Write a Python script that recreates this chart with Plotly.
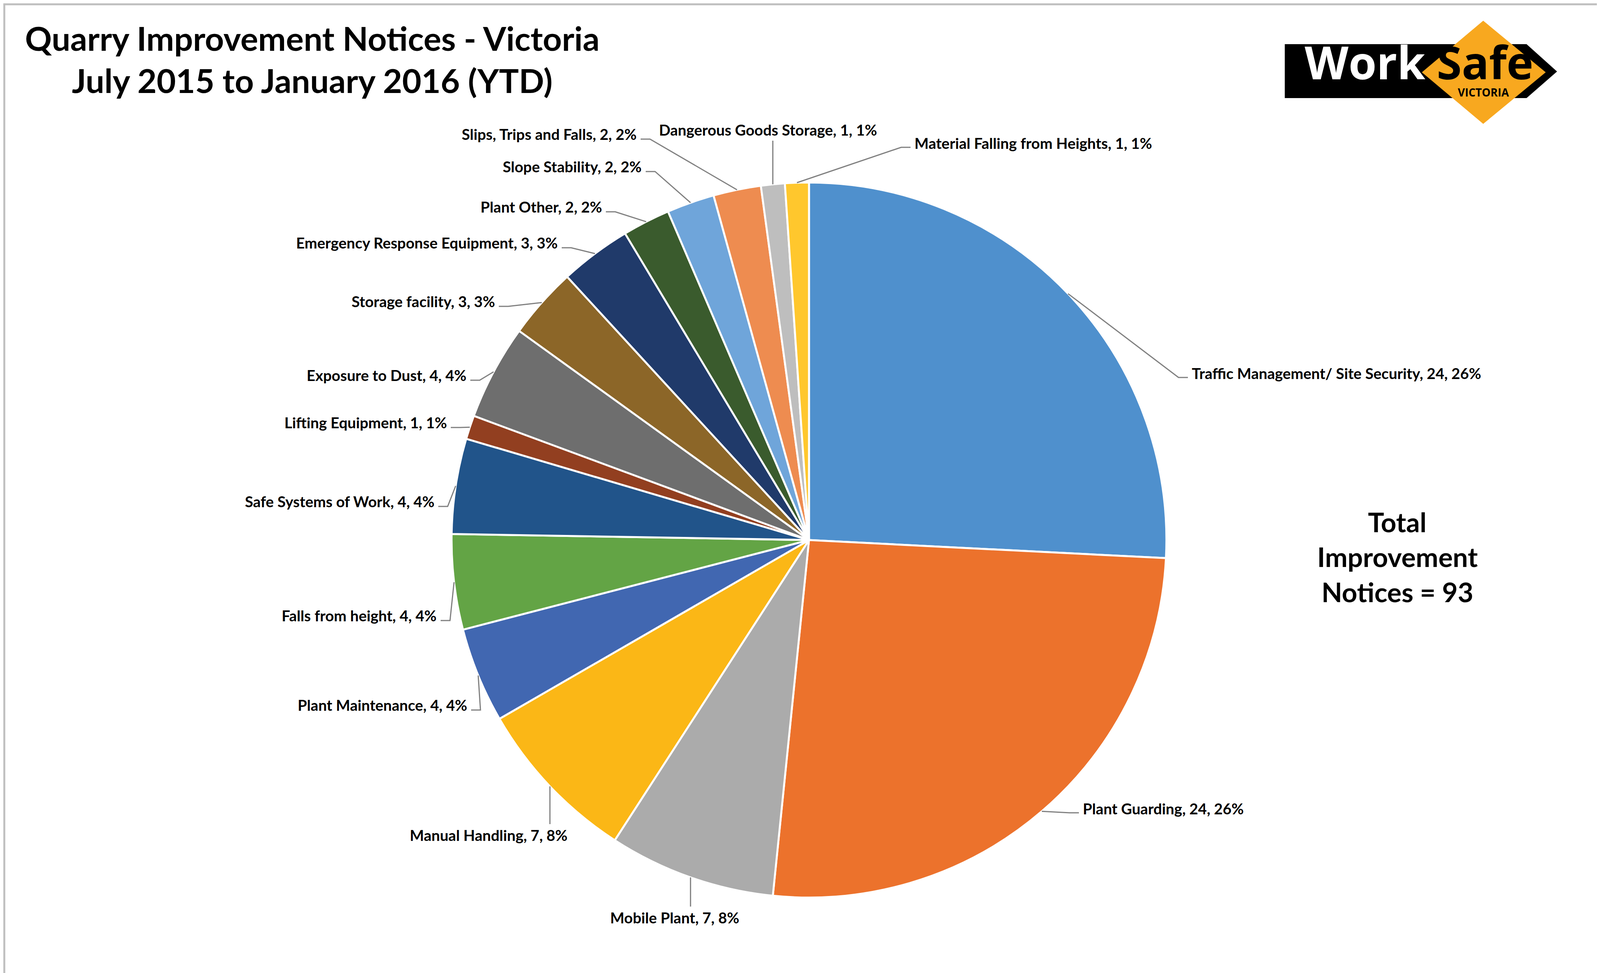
import math
import plotly.graph_objects as go

# data, clockwise from 12 o'clock
categories = [
    "Traffic Management/ Site Security", "Plant Guarding", "Mobile Plant",
    "Manual Handling", "Plant Maintenance", "Falls from height",
    "Safe Systems of Work", "Lifting Equipment", "Exposure to Dust",
    "Storage facility", "Emergency Response Equipment", "Plant Other",
    "Slope Stability", "Slips, Trips and Falls", "Dangerous Goods Storage",
    "Material Falling from Heights",
]
counts = [24, 24, 7, 7, 4, 4, 4, 1, 4, 3, 3, 2, 2, 2, 1, 1]
colors = [
    "#4F90CD", "#EC722C", "#ABABAB", "#FBB716", "#4167B1", "#63A445",
    "#21548A", "#923F20", "#6E6E6E", "#8C6628", "#203A6A", "#3A5B2D",
    "#6FA5DA", "#EE8C50", "#BEBEBE", "#FFC72D",
]

W, H = 4121, 2490
FONT = "Lato, 'Open Sans', sans-serif"


def px(x):
    return x / W


def py(y):
    return 1 - y / H


# pie geometry (pixels)
cx, cy, r = 2063, 1374, 915

# label placement in pixels: (x, y, side)
label_pos = {
    "Traffic Management/ Site Security": (3041, 947, "R"),
    "Plant Guarding": (2762, 2061, "R"),
    "Mobile Plant": (1719, 2340, "B"),
    "Manual Handling": (1243, 2129, "B"),
    "Plant Maintenance": (1190, 1796, "L"),
    "Falls from height": (1112, 1567, "L"),
    "Safe Systems of Work": (1106, 1275, "L"),
    "Lifting Equipment": (1138, 1073, "L"),
    "Exposure to Dust": (1188, 952, "L"),
    "Storage facility": (1261, 763, "L"),
    "Emergency Response Equipment": (1422, 613, "L"),
    "Plant Other": (1535, 521, "L"),
    "Slope Stability": (1637, 418, "L"),
    "Slips, Trips and Falls": (1624, 335, "L"),
    "Dangerous Goods Storage": (1958, 324, "T"),
    "Material Falling from Heights": (2331, 358, "R"),
}

total = sum(counts)

fig = go.Figure(go.Pie(
    labels=categories,
    values=counts,
    sort=False,
    direction="clockwise",
    rotation=0,
    marker=dict(colors=colors, line=dict(color="white", width=5)),
    textinfo="none",
    domain=dict(x=[px(cx - r), px(cx + r)], y=[py(cy + r), py(cy - r)]),
    showlegend=False,
))

annotations = []
shapes = []
cum = 0
for name, v in zip(categories, counts):
    theta = (cum + v / 2) / total * 2 * math.pi
    cum += v
    ex = cx + r * math.sin(theta)
    ey = cy - r * math.cos(theta)
    lx, ly, side = label_pos[name]
    pct = round(v / total * 100)
    txt = f"{name}, {v}, {pct}%"
    if side == "L":
        ann = dict(x=px(lx), y=py(ly), xanchor="right", yanchor="middle")
        pts = [(ex, ey), (lx + 32, ly + 13), (lx + 8, ly + 13)]
    elif side == "R":
        ann = dict(x=px(lx), y=py(ly), xanchor="left", yanchor="middle")
        pts = [(ex, ey), (lx - 32, ly + 11), (lx - 8, ly + 11)]
    elif side == "T":
        ann = dict(x=px(lx), y=py(ly), xanchor="center", yanchor="middle")
        pts = [(ex, ey), (ex, ly + 28)]
    else:
        ann = dict(x=px(lx), y=py(ly), xanchor="center", yanchor="middle")
        pts = [(ex, ey), (ex, ly - 28)]
    ann.update(text=txt, showarrow=False, xref="paper", yref="paper",
               font=dict(family=FONT, size=38.5, color="black", weight="bold"))
    annotations.append(ann)
    path = "M " + " L ".join(f"{px(a):.5f} {py(b):.5f}" for a, b in pts)
    shapes.append(dict(type="path", path=path, xref="paper", yref="paper",
                       line=dict(color="#7F7F7F", width=3)))

# title
for t, yy in [("Quarry Improvement Notices - Victoria", 89),
              ("July 2015 to January 2016 (YTD)", 197)]:
    annotations.append(dict(text=t, x=px(791), y=py(yy), xref="paper", yref="paper",
                            showarrow=False, xanchor="center", yanchor="middle",
                            font=dict(family=FONT, size=85, color="black", weight="bold")))

# total box text
for t, yy in [("Total", 1327), ("Improvement", 1417), (f"Notices = {total}", 1506)]:
    annotations.append(dict(text=t, x=px(3569), y=py(yy), xref="paper", yref="paper",
                            showarrow=False, xanchor="center", yanchor="middle",
                            font=dict(family=FONT, size=69, color="black", weight="bold")))


# WorkSafe logo
def poly(pts):
    return "M " + " L ".join(f"{px(a):.5f} {py(b):.5f}" for a, b in pts) + " Z"


shapes.append(dict(type="path", xref="paper", yref="paper", line=dict(width=0),
                   fillcolor="black",
                   path=poly([(3281, 105), (3900, 105), (3978, 175), (3900, 243), (3281, 243)])))
shapes.append(dict(type="path", xref="paper", yref="paper", line=dict(width=0),
                   fillcolor="#F8A81F",
                   path=poly([(3789, 45), (3949, 177), (3789, 309), (3632, 177)])))
annotations.append(dict(text="Work", x=px(3330), y=py(231), xref="paper", yref="paper",
                        showarrow=False, xanchor="left", yanchor="bottom",
                        font=dict(family="'Open Sans', sans-serif", size=116,
                                  color="white", weight="bold")))
annotations.append(dict(text="Safe", x=px(3668), y=py(231), xref="paper", yref="paper",
                        showarrow=False, xanchor="left", yanchor="bottom",
                        font=dict(family="'Open Sans', sans-serif", size=116,
                                  color="black", weight="bold")))
annotations.append(dict(text="VICTORIA", x=px(3790), y=py(228), xref="paper", yref="paper",
                        showarrow=False, xanchor="center", yanchor="middle",
                        font=dict(family="'Open Sans', sans-serif", size=28,
                                  color="black", weight="bold")))

# chart area border
shapes.append(dict(type="rect", xref="paper", yref="paper",
                   x0=px(3), x1=px(4118), y0=py(2487), y1=py(3),
                   line=dict(color="#BFBFBF", width=5)))

fig.update_layout(
    width=W, height=H,
    margin=dict(l=0, r=0, t=0, b=0),
    paper_bgcolor="white",
    plot_bgcolor="white",
    annotations=annotations,
    shapes=shapes,
)

fig.write_html("out.html")
